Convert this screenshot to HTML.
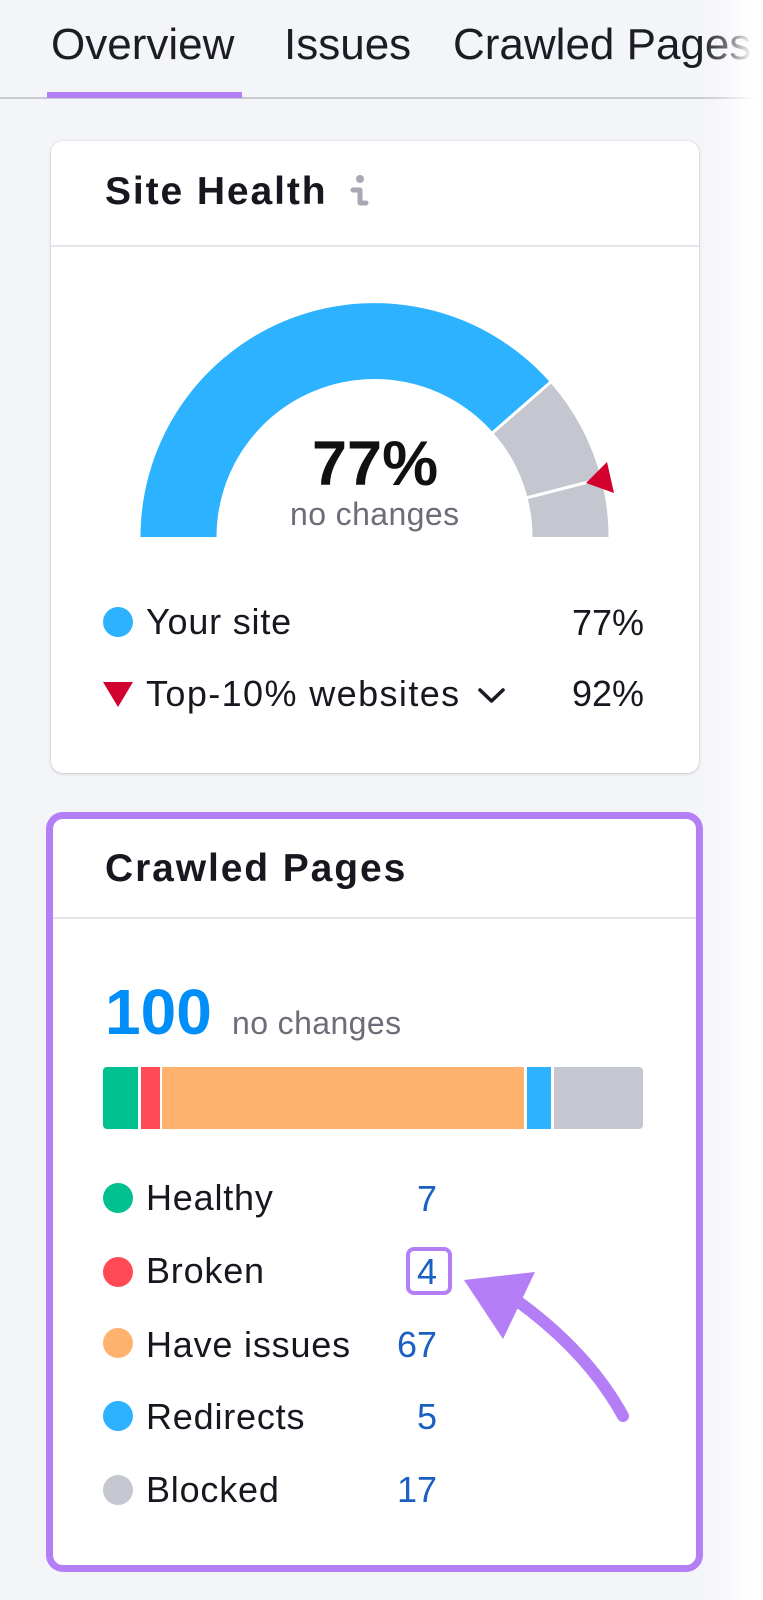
<!DOCTYPE html>
<html><head><meta charset="utf-8">
<style>
*{margin:0;padding:0;box-sizing:border-box}
html,body{width:763px;height:1600px;overflow:hidden;background:#f4f5f9;font-family:"Liberation Sans",sans-serif;color:#1b1c23}
.a{position:absolute;white-space:nowrap}
.tab{font-size:44px;line-height:44px;top:23px;color:#1c1d24}
.card1{position:absolute;left:51px;top:141px;width:648px;height:632px;background:#fff;border-radius:12px;box-shadow:0 1px 3px rgba(0,0,0,.16),0 0 0 1px rgba(0,0,0,.03)}
.card2{position:absolute;left:46px;top:812px;width:657px;height:760px;background:#fff;border:7px solid #b47ff6;border-radius:17px}
.title{font-size:39px;line-height:39px;font-weight:bold;letter-spacing:1.9px;color:#17181f}
.lg{font-size:36px;line-height:36px;letter-spacing:0.8px;color:#17181f}
.num{font-size:36px;line-height:36px;color:#1a5fc2;text-align:right;width:80px}
.dot{position:absolute;width:30px;height:30px;border-radius:50%;left:103px}
</style></head><body>

<div class="a tab" style="left:51px">Overview</div>
<div class="a tab" style="left:284px">Issues</div>
<div class="a tab" style="left:453px">Crawled Pages</div>
<div class="a" style="left:0;top:97px;width:763px;height:2px;background:#c9cad0"></div>
<div class="a" style="left:47px;top:92px;width:195px;height:6px;background:#b47ff6"></div>

<div class="card1"></div>
<div class="a title" style="left:105px;top:172px">Site Health</div>
<div class="a" style="left:51px;top:245px;width:648px;height:2px;background:#e4e5ea"></div>

<svg class="a" style="left:0;top:0" width="763" height="1600" viewBox="0 0 763 1600">
  <g fill="none" stroke="#a7a9b4" stroke-width="5" stroke-linecap="round" stroke-linejoin="round">
    <path d="M353,190 L360,190 L360,203 L366,203"/>
    <path d="M435,865 L442,865 L442,878 L448,878"/>
  </g>
  <circle cx="360" cy="179" r="4" fill="#a7a9b4"/>
  <circle cx="442" cy="854" r="4" fill="#a7a9b4"/>
  <path d="M140.5,537 A234,234 0 0 1 550,382.3 L493,432.5 A158,158 0 0 0 216.5,537 Z" fill="#2db2ff"/>
  <path d="M550,382.3 A234,234 0 0 1 601.1,478.8 L527.5,497.7 A158,158 0 0 0 493,432.5 Z" fill="#c5c7d0"/>
  <path d="M601.1,478.8 A234,234 0 0 1 608.5,537 L532.5,537 A158,158 0 0 0 527.5,497.7 Z" fill="#c5c7d0"/>
  <line x1="490" y1="435" x2="553" y2="380" stroke="#fff" stroke-width="3"/>
  <line x1="524" y1="498.5" x2="604" y2="478" stroke="#fff" stroke-width="3"/>
  <polygon points="607,462 614,493 586,483" fill="#d1002f"/>
  <polygon points="103,682 133,682 118,707" fill="#d1002f"/>
  <polyline points="480,690 491.5,701 503,690" fill="none" stroke="#1b1c23" stroke-width="3.6" stroke-linecap="round" stroke-linejoin="round"/>
</svg>

<div class="a" style="left:312px;top:433px;font-size:63px;line-height:63px;font-weight:bold;color:#111">77%</div>
<div class="a" style="left:290px;top:498px;font-size:32px;line-height:32px;letter-spacing:0.4px;color:#6b6d78">no changes</div>

<div class="dot" style="top:607px;background:#2db2ff"></div>
<div class="a lg" style="left:146px;top:603.5px">Your site</div>
<div class="a lg" style="left:146px;top:675.5px;letter-spacing:1.4px">Top-10% websites</div>
<div class="a" style="left:544px;top:604.5px;width:100px;text-align:right;font-size:36px;line-height:36px;color:#17181f">77%</div>
<div class="a" style="left:544px;top:675.5px;width:100px;text-align:right;font-size:36px;line-height:36px;color:#17181f">92%</div>

<div class="card2"></div>
<div class="a title" style="left:105px;top:849px">Crawled Pages</div>
<div class="a" style="left:53px;top:917px;width:643px;height:2px;background:#e3e4e9"></div>

<div class="a" style="left:105px;top:980px;font-size:64px;line-height:64px;font-weight:bold;color:#008ff8">100</div>
<div class="a" style="left:232px;top:1007px;font-size:32px;line-height:32px;letter-spacing:0.4px;color:#6b6d78">no changes</div>

<div class="a" style="left:103px;top:1067px;width:540px;height:62px;border-radius:4px;overflow:hidden;background:#fff">
  <div class="a" style="left:0;top:0;width:35px;height:62px;background:#00c090"></div>
  <div class="a" style="left:38px;top:0;width:19px;height:62px;background:#ff4a55"></div>
  <div class="a" style="left:59px;top:0;width:362px;height:62px;background:#ffb26e"></div>
  <div class="a" style="left:424px;top:0;width:24px;height:62px;background:#2db2ff"></div>
  <div class="a" style="left:451px;top:0;width:89px;height:62px;background:#c5c7d0"></div>
</div>

<div class="dot" style="top:1183px;background:#00c090"></div>
<div class="dot" style="top:1257px;background:#ff4a55"></div>
<div class="dot" style="top:1328px;background:#ffb26e"></div>
<div class="dot" style="top:1401px;background:#2db2ff"></div>
<div class="dot" style="top:1475px;background:#c5c7d0"></div>

<div class="a lg" style="left:146px;top:1179.5px">Healthy</div>
<div class="a lg" style="left:146px;top:1252.5px">Broken</div>
<div class="a lg" style="left:146px;top:1326.5px">Have issues</div>
<div class="a lg" style="left:146px;top:1398.5px">Redirects</div>
<div class="a lg" style="left:146px;top:1471.5px">Blocked</div>

<div class="a num" style="left:357px;top:1180.5px">7</div>
<div class="a num" style="left:357px;top:1253.5px">4</div>
<div class="a num" style="left:357px;top:1326.5px">67</div>
<div class="a num" style="left:357px;top:1398.5px">5</div>
<div class="a num" style="left:357px;top:1471.5px">17</div>

<div class="a" style="left:406px;top:1247px;width:46px;height:48px;border:4px solid #b47ff6;border-radius:8px"></div>

<svg class="a" style="left:0;top:0" width="763" height="1600" viewBox="0 0 763 1600">
  <path d="M516,1300 Q588,1352 623,1416" fill="none" stroke="#b47ff6" stroke-width="12" stroke-linecap="round"/>
  <polygon points="464,1280 535,1272 503,1339" fill="#b47ff6"/>
</svg>

<div class="a" style="left:700px;top:0;width:63px;height:1600px;background:linear-gradient(to right,rgba(255,255,255,0) 0%,rgba(255,255,255,0.35) 40%,rgba(255,255,255,0.95) 80%,#fff 100%)"></div>
</body></html>
